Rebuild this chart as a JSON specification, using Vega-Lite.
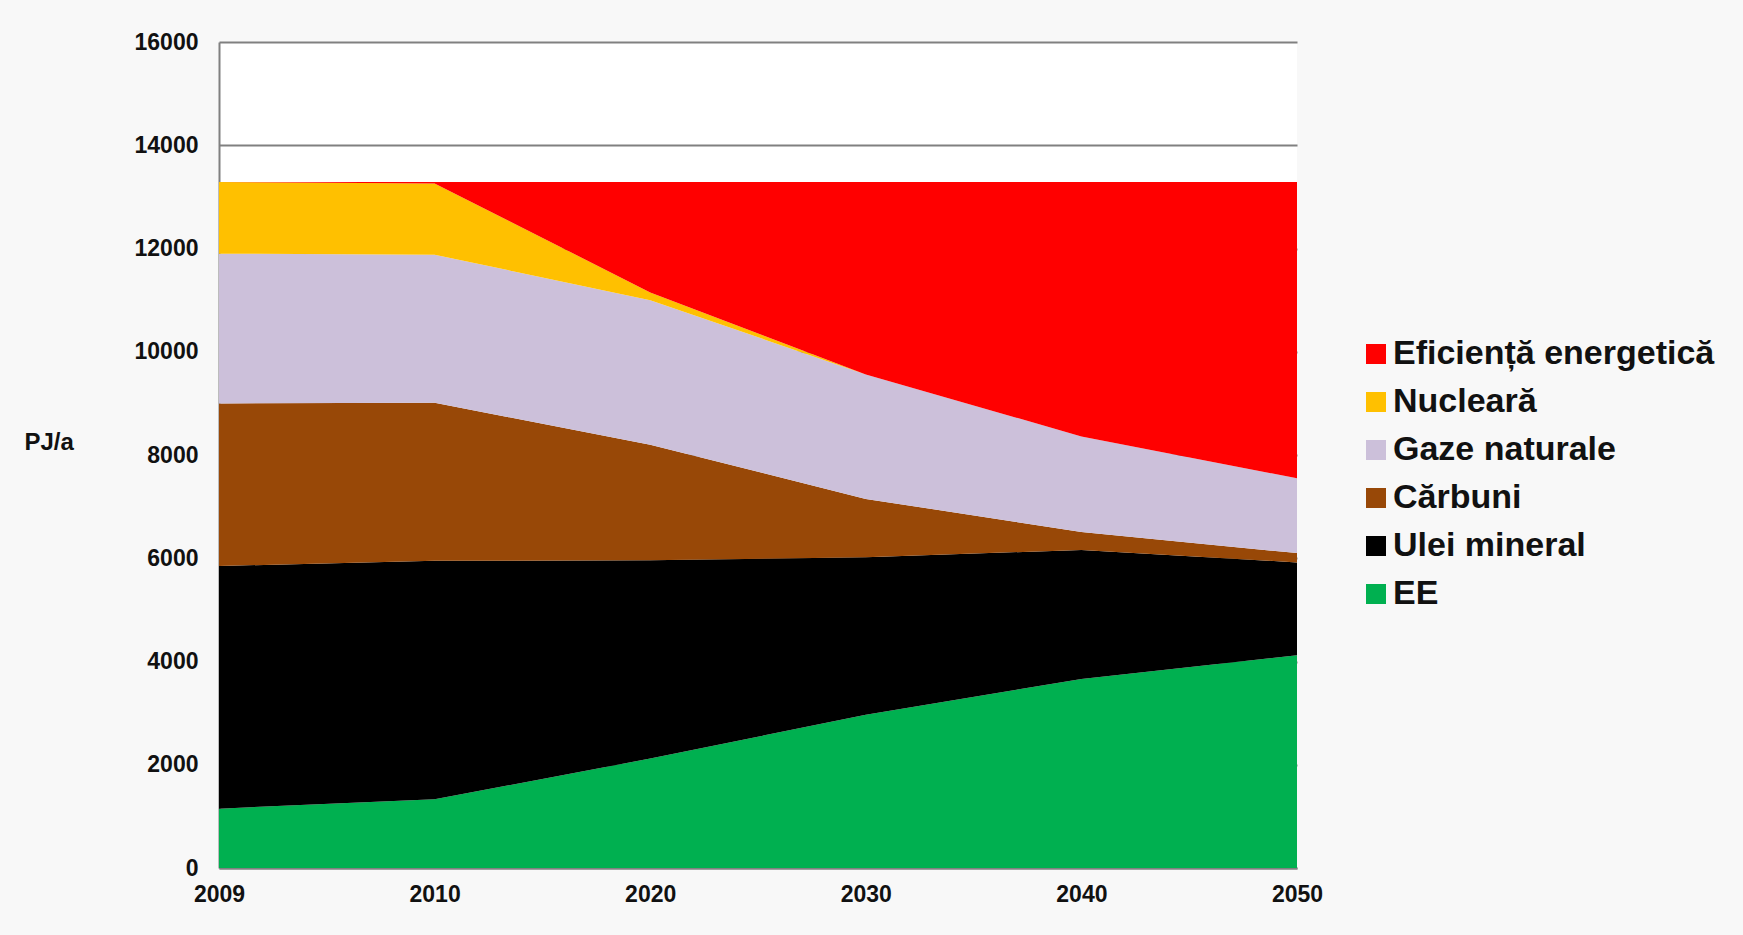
{
  "$schema": "https://vega.github.io/schema/vega-lite/v6.json",
  "width": 1078,
  "height": 826,
  "autosize": "none",
  "padding": {"left": 219, "top": 42, "right": 446, "bottom": 67},
  "background": "#f8f8f8",
  "config": {
    "view": {"fill": "white", "stroke": null},
    "font": "Liberation Sans"
  },
  "data": {
    "values": [
      {"year": "2009", "series": "EE", "value": 1150},
      {"year": "2010", "series": "EE", "value": 1330},
      {"year": "2020", "series": "EE", "value": 2120},
      {"year": "2030", "series": "EE", "value": 2970},
      {"year": "2040", "series": "EE", "value": 3660},
      {"year": "2050", "series": "EE", "value": 4120},
      {"year": "2009", "series": "Ulei mineral", "value": 4700},
      {"year": "2010", "series": "Ulei mineral", "value": 4620},
      {"year": "2020", "series": "Ulei mineral", "value": 3840},
      {"year": "2030", "series": "Ulei mineral", "value": 3050},
      {"year": "2040", "series": "Ulei mineral", "value": 2500},
      {"year": "2050", "series": "Ulei mineral", "value": 1800},
      {"year": "2009", "series": "Cărbuni", "value": 3150},
      {"year": "2010", "series": "Cărbuni", "value": 3060},
      {"year": "2020", "series": "Cărbuni", "value": 2240},
      {"year": "2030", "series": "Cărbuni", "value": 1130},
      {"year": "2040", "series": "Cărbuni", "value": 350},
      {"year": "2050", "series": "Cărbuni", "value": 180},
      {"year": "2009", "series": "Gaze naturale", "value": 2900},
      {"year": "2010", "series": "Gaze naturale", "value": 2870},
      {"year": "2020", "series": "Gaze naturale", "value": 2800},
      {"year": "2030", "series": "Gaze naturale", "value": 2410},
      {"year": "2040", "series": "Gaze naturale", "value": 1850},
      {"year": "2050", "series": "Gaze naturale", "value": 1450},
      {"year": "2009", "series": "Nucleară", "value": 1390},
      {"year": "2010", "series": "Nucleară", "value": 1380},
      {"year": "2020", "series": "Nucleară", "value": 150},
      {"year": "2030", "series": "Nucleară", "value": 0},
      {"year": "2040", "series": "Nucleară", "value": 0},
      {"year": "2050", "series": "Nucleară", "value": 0},
      {"year": "2009", "series": "Eficiență energetică", "value": 0},
      {"year": "2010", "series": "Eficiență energetică", "value": 30},
      {"year": "2020", "series": "Eficiență energetică", "value": 2140},
      {"year": "2030", "series": "Eficiență energetică", "value": 3730},
      {"year": "2040", "series": "Eficiență energetică", "value": 4930},
      {"year": "2050", "series": "Eficiență energetică", "value": 5740}
    ]
  },
  "transform": [
    {"calculate": "indexof(['EE','Ulei mineral','Cărbuni','Gaze naturale','Nucleară','Eficiență energetică'], datum.series)", "as": "stackOrder"}
  ],
  "mark": {"type": "area", "interpolate": "linear"},
  "encoding": {
    "x": {
      "field": "year",
      "type": "ordinal",
      "scale": {"type": "point", "padding": 0},
      "axis": {
        "title": null,
        "labelAngle": 0,
        "ticks": false,
        "domainColor": "#808080",
        "domainWidth": 2,
        "labelFontSize": 23,
        "labelFontWeight": "bold",
        "labelColor": "#111111",
        "labelPadding": 15
      }
    },
    "y": {
      "field": "value",
      "type": "quantitative",
      "stack": "zero",
      "scale": {"domain": [0, 16000], "nice": false},
      "axis": {
        "values": [0, 2000, 4000, 6000, 8000, 10000, 12000, 14000, 16000],
        "format": "d",
        "ticks": false,
        "domainColor": "#808080",
        "domainWidth": 2,
        "grid": true,
        "gridColor": "#808080",
        "gridWidth": 2,
        "labelFontSize": 23,
        "labelFontWeight": "bold",
        "labelColor": "#111111",
        "labelPadding": 21,
        "title": "PJ/a",
        "titleAngle": 0,
        "titleAlign": "left",
        "titleBaseline": "middle",
        "titleX": -195,
        "titleY": 400,
        "titleFontSize": 24,
        "titleFontWeight": "bold",
        "titleColor": "#111111"
      }
    },
    "order": {"field": "stackOrder", "type": "quantitative", "sort": "ascending"},
    "color": {
      "field": "series",
      "type": "nominal",
      "sort": ["Eficiență energetică", "Nucleară", "Gaze naturale", "Cărbuni", "Ulei mineral", "EE"],
      "scale": {"range": ["#FF0000", "#FFC000", "#CCC0DA", "#984807", "#000000", "#00B050"]},
      "legend": {
        "title": null,
        "orient": "none",
        "legendX": 1140,
        "legendY": 295,
        "padding": 0,
        "symbolType": "square",
        "symbolSize": 400,
        "symbolStrokeWidth": 0,
        "labelFontSize": 34,
        "labelFontWeight": "bold",
        "labelColor": "#111111",
        "labelOffset": 0,
        "rowPadding": 14,
        "labelLimit": 600
      }
    }
  }
}
